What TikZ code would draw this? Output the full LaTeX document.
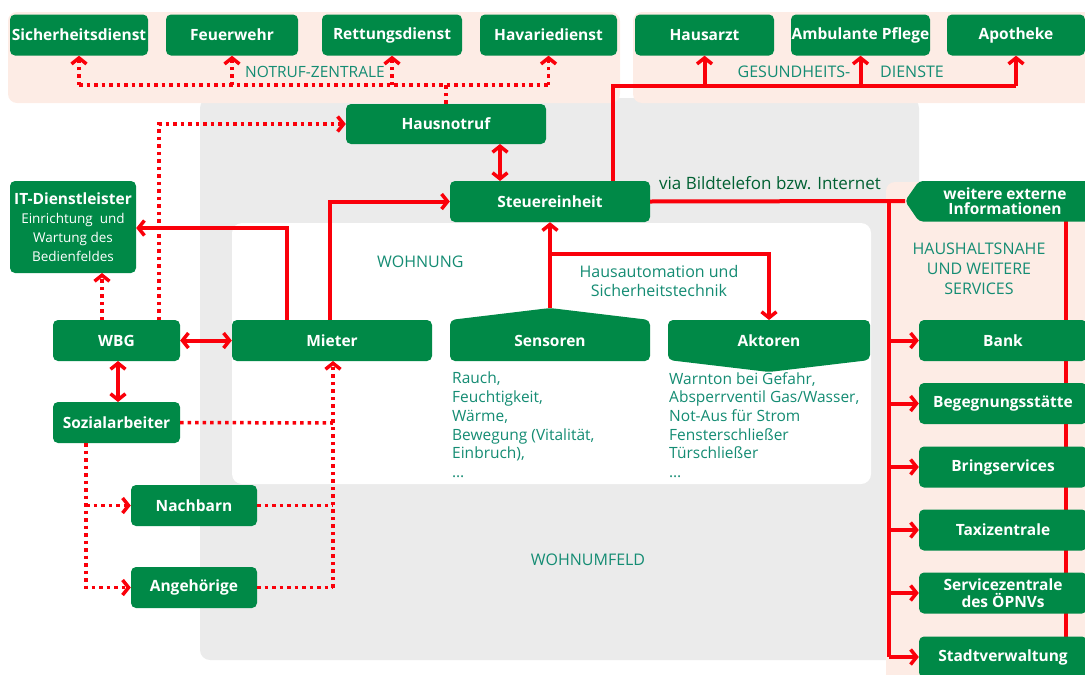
\documentclass[tikz,border=0pt]{standalone}
\usepackage{fontspec}
\setmainfont{Open Sans}
\usetikzlibrary{arrows.meta,calc}
\definecolor{boxgreen}{RGB}{0,137,71}
\definecolor{lred}{RGB}{250,0,10}
\definecolor{pinkbg}{RGB}{253,236,229}
\definecolor{graybg}{RGB}{235,235,235}
\definecolor{tealtxt}{RGB}{20,140,115}
\tikzset{
  box/.style={fill=boxgreen, rounded corners=5pt, text=white, font=\bfseries\fontsize{15.5}{17}\selectfont, minimum height=41pt, inner sep=0pt, align=center},
  tip/.style={-{Straight Barb[length=6pt,width=15pt,line width=3.5pt]}},
  dtip/.style={{Straight Barb[length=6pt,width=15pt,line width=3.5pt]}-{Straight Barb[length=6pt,width=15pt,line width=3.5pt]}},
  redline/.style={draw=lred, line width=4pt},
  dotline/.style={draw=lred, line width=3.5pt, dash pattern=on 3.5pt off 4pt},
  lbl/.style={text=tealtxt, font=\fontsize{16}{19}\selectfont, inner sep=0pt},
  lst/.style={text=tealtxt, font=\fontsize{15.5}{18.7}\selectfont, inner sep=0pt, align=left, anchor=north west}
}
\begin{document}
\begin{tikzpicture}[x=1pt,y=-1pt]
\useasboundingbox (0,0) rectangle (1085,675);
% backgrounds
\fill[graybg, rounded corners=10pt] (200,98) rectangle (919,660);
\fill[pinkbg, rounded corners=9pt] (8,12) rectangle (620,103);
\fill[pinkbg, rounded corners=9pt] (633,12) rectangle (1100,103);
\fill[pinkbg, rounded corners=9pt] (886,182) rectangle (1100,690);
\fill[white, rounded corners=10pt] (232,223) rectangle (871,484);

% nodes
\node[box, minimum width=138pt] (sich) at (79,35) {Sicherheitsdienst};
\node[box, minimum width=132pt] (feuer) at (232,35) {Feuerwehr};
\node[box, minimum width=140pt] (rett) at (392,35) {Rettungsdienst};
\node[box, minimum width=137pt] (hava) at (548.5,35) {Havariedienst};
\node[box, minimum width=139pt] (arzt) at (704.5,35) {Hausarzt};
\node[box, minimum width=139pt] (pflege) at (860.5,35) {Ambulante Pflege};
\node[box, minimum width=138pt] (apo) at (1016,35) {Apotheke};

\node[box, minimum width=200pt, minimum height=40pt] (hnr) at (446,124) {Hausnotruf};
\node[box, minimum width=200pt] (steuer) at (550,201.5) {Steuereinheit};
\node[box, minimum width=126pt, minimum height=92pt, font=\fontsize{13.5}{19}\selectfont] (it) at (73,227) {\textbf{\fontsize{15.5}{19}\selectfont IT-Dienstleister}\\Einrichtung~ und\\Wartung des\\Bedienfeldes};
\node[box, minimum width=127pt] (wbg) at (116.5,340.5) {WBG};
\node[box, minimum width=200pt] (mieter) at (332,340.5) {Mieter};
\node[box, minimum width=127pt] (sozial) at (116.5,422.5) {Sozialarbeiter};
\node[box, minimum width=126pt] (nachbarn) at (194,505.5) {Nachbarn};
\node[box, minimum width=126pt] (angeh) at (194,587.5) {Angehörige};

% Sensoren / Aktoren shapes
\fill[boxgreen, rounded corners=5pt] (450,361) -- (450,320) -- (550,308) -- (650,320) -- (650,361) -- cycle;
\node[box, fill=none, minimum width=200pt] (sens) at (550,340.5) {Sensoren};
\coordinate (senstop) at (550,308);
\fill[boxgreen, rounded corners=5pt] (668,320) -- (870,320) -- (870,360) -- (769,372) -- (668,360) -- cycle;
\node[box, fill=none, minimum width=200pt] (akt) at (769,340.5) {Aktoren};
\coordinate (akttop) at (769,320);

% right side
\draw[redline] (1066,215) -- (1066,660);
\fill[boxgreen, rounded corners=4pt] (1100,181) -- (919,181) -- (905,201) -- (919,221.5) -- (1100,221.5) -- cycle;
\node[box, fill=none, font=\bfseries\fontsize{15.5}{15.5}\selectfont, minimum width=170pt] (weitere) at (1005,201) {weitere externe\\Informationen};
\coordinate (wtip) at (905,201);
\node[box, minimum width=168pt] (bank) at (1003,340.5) {Bank};
\node[box, minimum width=168pt] (beg) at (1003,403.5) {Begegnungsstätte};
\node[box, minimum width=168pt] (bring) at (1003,467) {Bringservices};
\node[box, minimum width=168pt] (taxi) at (1003,530) {Taxizentrale};
\node[box, minimum width=168pt, font=\bfseries\fontsize{15.5}{16.5}\selectfont] (oepnv) at (1003,593) {Servicezentrale\\des ÖPNVs};
\node[box, minimum width=168pt] (stadt) at (1003,657) {Stadtverwaltung};

% labels
\node[lbl, font=\fontsize{15.5}{19}\selectfont] (lnot) at (315,72) {NOTRUF-ZENTRALE};
\node[lbl] (lges1) at (794,72) {GESUNDHEITS-};
\node[lbl] (lges2) at (912,72) {DIENSTE};
\node[lbl, text=boxgreen!70!black, font=\fontsize{17}{19}\selectfont] (lvia) at (770,183) {via Bildtelefon bzw. Internet};
\node[lbl, anchor=west] (lwoh) at (377,262) {WOHNUNG};
\node[lbl, align=center, font=\fontsize{16}{19}\selectfont] (lhaus) at (659,281) {Hausautomation und\\Sicherheitstechnik};
\node[lbl, align=center, font=\fontsize{16}{20}\selectfont] (lhh) at (979,269) {HAUSHALTSNAHE\\UND WEITERE\\SERVICES};
\node[lbl] (lumf) at (588,560) {WOHNUMFELD};
\node[lst] (lsens) at (452,372) {Rauch,\\Feuchtigkeit,\\Wärme,\\Bewegung (Vitalität,\\Einbruch),\\\ldots};
\node[lst] (lakt) at (669,372) {Warnton bei Gefahr,\\Absperrventil Gas/Wasser,\\Not-Aus für Strom\\Fensterschließer\\Türschließer\\\ldots};

% notruf dotted
\coordinate (nbus) at (446,85);
\draw[dotline] (hnr.north) -- (nbus);
\draw[dotline] (sich.south |- nbus) -- (hava.south |- nbus);
\foreach \n in {sich,feuer,rett,hava}{
  \draw[dotline, tip] (\n.south |- nbus) -- (\n.south);
}
% gesundheit
\coordinate (gup) at (613,86);
\draw[redline] (steuer.north -| gup) -- (gup) -- (apo.south |- gup);
\foreach \n in {arzt,pflege,apo}{
  \draw[redline, tip] (\n.south |- gup) -- (\n.south);
}
% Hausnotruf <-> Steuereinheit
\draw[redline, dtip] (500,144) -- (500,181);
% steuer to weitere and bus
\coordinate (rbus) at (889,201);
\draw[redline] (steuer.east) -- (wtip);
\draw[redline] (rbus) -- (889,657);
\foreach \n in {bank,beg,bring,taxi,oepnv,stadt}{
  \draw[redline, tip] (\n.west -| rbus) -- (\n.west);
}
% Mieter connections
\draw[redline, tip] (287,320) |- (it.east |- 0,228);
\draw[redline, tip] (330,320) |- (steuer.west);
% sensors / actors
\draw[redline, tip] (senstop) -- (steuer.south);
\draw[redline, tip] (550,254) -| (akttop);
% WBG
\draw[redline, dtip] (wbg.east) -- (mieter.west);
\draw[redline, dtip] (118,361) -- (118,402);
\draw[dotline, tip] (159,320) |- (hnr.west);
\draw[dotline, tip] (102,320) -- (102,273);
% Sozialarbeiter
\coordinate (mcol) at (333,423);
\draw[dotline] (sozial.east) -- (mcol);
\draw[dotline, tip] (333,587.5) -- (333,361);
\draw[dotline] (nachbarn.east) -- (nachbarn.east -| mcol);
\draw[dotline] (angeh.east) -- (angeh.east -| mcol);
\draw[dotline, tip] (86,443) |- (angeh.west);
\draw[dotline, tip] (86,505.5) -- (nachbarn.west);
\end{tikzpicture}
\end{document}
